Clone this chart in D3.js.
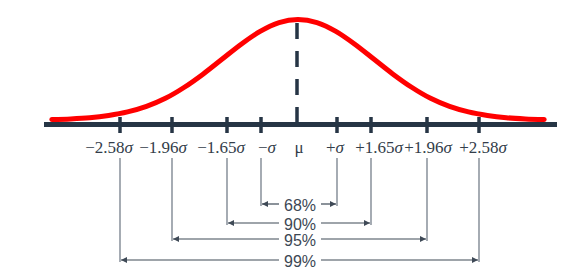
<!DOCTYPE html>
<html>
<head>
<meta charset="utf-8">
<script src="https://cdn.jsdelivr.net/npm/d3@7"></script>
<style>
  html, body { margin: 0; padding: 0; background: #fff; }
  svg { display: block; }
</style>
</head>
<body>
<svg id="chart" width="566" height="271"></svg>
<script>
// ---- data ----
const tickValues = [-2.58, -1.96, -1.65, -1, 0, 1, 1.65, 1.96, 2.58];
const tickLabels = ["−2.58", "−1.96", "−1.65", "−", "μ", "+", "+1.65", "+1.96", "+2.58"];
const tickHasSigma = [true, true, true, true, false, true, true, true, true];

const intervalLabels = ["68%", "90%", "95%", "99%"];
const intervalZ = [1, 1.65, 1.96, 2.58];

// bell curve (z in curve-sigma units, density)
const curveZ = [-3.25, -3, -2.75, -2.5, -2.25, -2, -1.75, -1.5, -1.25, -1, -0.75, -0.5, -0.25, 0,
                0.25, 0.5, 0.75, 1, 1.25, 1.5, 1.75, 2, 2.25, 2.5, 2.75, 3, 3.25];
const curveDensity = [0.002, 0.0044, 0.009, 0.018, 0.032, 0.054, 0.086, 0.130, 0.183, 0.242, 0.301, 0.352, 0.387, 0.399,
                      0.387, 0.352, 0.301, 0.242, 0.183, 0.130, 0.086, 0.054, 0.032, 0.018, 0.009, 0.0044, 0.002];

// ---- scales ----
const svg = d3.select("#chart");
const navy = "#263545";

// illustrative (non-proportional) axis layout, as in the original drawing
const xTick = d3.scaleLinear().domain(tickValues)
  .range([120, 172, 227, 261, 297, 337, 371, 427, 479]);
// the drawing's labels sit slightly off their ticks
const xLabel = d3.scaleLinear().domain(tickValues)
  .range([109, 163, 221, 267, 299, 335, 379, 428, 483]);
const xCurve = d3.scaleLinear().domain([-3.3, 3.3]).range([48, 548]);
const yCurve = d3.scaleLinear().domain([0, 0.399]).range([120, 19.5]);

const axisY = 124.5;

// ---- curve ----
const line = d3.line()
  .x((d, i) => xCurve(curveZ[i]))
  .y(d => yCurve(d))
  .curve(d3.curveMonotoneX);
svg.append("path")
  .datum(curveDensity)
  .attr("d", line)
  .attr("fill", "none")
  .attr("stroke", "#ff0000")
  .attr("stroke-width", 5)
  .attr("stroke-linecap", "round");

// ---- mean dashed line ----
svg.append("line")
  .attr("x1", xTick(0)).attr("x2", xTick(0))
  .attr("y1", 23).attr("y2", axisY)
  .attr("stroke", navy)
  .attr("stroke-width", 3.5)
  .attr("stroke-dasharray", "16,12");

// ---- axis line ----
svg.append("line")
  .attr("x1", 44).attr("x2", 557)
  .attr("y1", axisY).attr("y2", axisY)
  .attr("stroke", navy)
  .attr("stroke-width", 5);

// ---- ticks ----
svg.selectAll("line.tick")
  .data(tickValues.filter(v => v !== 0))
  .enter().append("line")
  .attr("class", "tick")
  .attr("x1", d => xTick(d)).attr("x2", d => xTick(d))
  .attr("y1", 117).attr("y2", 133)
  .attr("stroke", navy)
  .attr("stroke-width", 3.5);

// ---- tick labels ----
const lbl = svg.selectAll("text.tl")
  .data(tickValues)
  .enter().append("text")
  .attr("class", "tl")
  .attr("x", d => xLabel(d))
  .attr("y", 153)
  .attr("text-anchor", "middle")
  .attr("font-family", "'Liberation Serif', 'DejaVu Serif', serif")
  .attr("font-size", 17)
  .attr("fill", "#333d4a");
lbl.append("tspan").text((d, i) => tickLabels[i]);
lbl.filter((d, i) => tickHasSigma[i])
  .append("tspan").attr("font-style", "italic").text("σ");

// ---- interval brackets ----
const arrowY = [204, 223, 239, 260];
const lineGrey = "#6a7480";
const arrowCol = "#3f4a57";

svg.append("defs").append("marker")
  .attr("id", "ah")
  .attr("viewBox", "0 0 10 10")
  .attr("refX", 10).attr("refY", 5)
  .attr("markerWidth", 7).attr("markerHeight", 6)
  .attr("markerUnits", "userSpaceOnUse")
  .attr("orient", "auto")
  .append("path")
  .attr("d", "M0,0 L10,5 L0,10 Z")
  .attr("fill", arrowCol);

const textX = 300;
intervalZ.forEach((z, i) => {
  const y = arrowY[i];
  // vertical leaders
  [-z, z].forEach(v => {
    svg.append("line")
      .attr("x1", xTick(v)).attr("x2", xTick(v))
      .attr("y1", 158).attr("y2", y + 2)
      .attr("stroke", lineGrey)
      .attr("stroke-width", 1.2);
  });
  // arrows
  svg.append("line")
    .attr("x1", 279).attr("x2", xTick(-z) + 1)
    .attr("y1", y).attr("y2", y)
    .attr("stroke", arrowCol).attr("stroke-width", 1.2)
    .attr("marker-end", "url(#ah)");
  svg.append("line")
    .attr("x1", 321).attr("x2", xTick(z) - 1)
    .attr("y1", y).attr("y2", y)
    .attr("stroke", arrowCol).attr("stroke-width", 1.2)
    .attr("marker-end", "url(#ah)");
  // label
  svg.append("text")
    .attr("x", textX)
    .attr("y", y + 7)
    .attr("text-anchor", "middle")
    .attr("font-family", "'Liberation Sans', Arial, sans-serif")
    .attr("font-size", 16)
    .attr("fill", "#3d4754")
    .text(intervalLabels[i]);
});
</script>
</body>
</html>
